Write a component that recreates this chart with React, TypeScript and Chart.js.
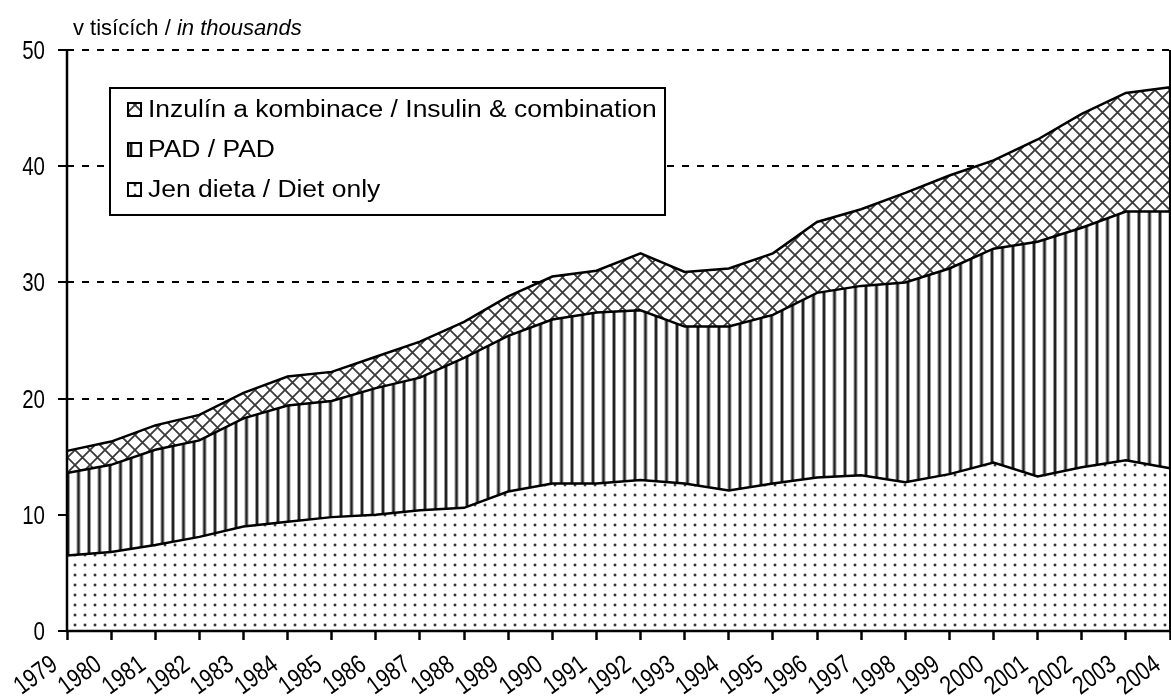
import React, { useEffect, useRef } from 'react';
import { Chart, registerables } from 'chart.js';

Chart.register(...registerables);

const years = ['1979', '1980', '1981', '1982', '1983', '1984', '1985', '1986', '1987', '1988', '1989', '1990', '1991', '1992', '1993', '1994', '1995', '1996', '1997', '1998', '1999', '2000', '2001', '2002', '2003', '2004'];
const dietOnly = [6.5, 6.8, 7.4, 8.1, 9.0, 9.4, 9.8, 10.0, 10.4, 10.6, 12.0, 12.7, 12.7, 13.0, 12.7, 12.1, 12.7, 13.2, 13.4, 12.8, 13.5, 14.5, 13.3, 14.1, 14.7, 14.0];
const pad = [7.1, 7.5, 8.2, 8.3, 9.3, 10.0, 10.0, 10.9, 11.4, 12.9, 13.4, 14.1, 14.7, 14.6, 13.5, 14.1, 14.5, 15.9, 16.3, 17.2, 17.7, 18.4, 20.2, 20.6, 21.4, 22.1];
const insulin = [1.9, 2.0, 2.1, 2.2, 2.2, 2.5, 2.5, 2.7, 3.1, 3.1, 3.4, 3.7, 3.6, 4.9, 4.7, 5.0, 5.3, 6.1, 6.6, 7.7, 8.0, 7.6, 8.8, 9.8, 10.2, 10.7];
const yMin = 0;
const yMax = 50;
const yStep = 10;
const seriesLabels = ['Jen dieta / Diet only', 'PAD / PAD', 'Inzulín a kombinace / Insulin & combination'];
const unitNormal = 'v tisících / ';
const unitItalic = 'in thousands';

const FONT = '"Liberation Sans", Arial, sans-serif';

function tile(w: number, h: number, draw: (c: CanvasRenderingContext2D) => void) {
  const cv = document.createElement('canvas');
  cv.width = w;
  cv.height = h;
  const c = cv.getContext('2d')!;
  c.fillStyle = '#ffffff';
  c.fillRect(0, 0, w, h);
  draw(c);
  return cv;
}

function makePatterns(ctx: CanvasRenderingContext2D) {
  const dots = tile(10, 10, (c) => {
    c.fillStyle = '#8a8a8a';
    c.beginPath();
    c.arc(5, 5, 1.7, 0, Math.PI * 2);
    c.fill();
    c.fillStyle = '#333';
    c.fillRect(4, 4, 2, 2);
  });
  const vlines = tile(21, 4, (c) => {
    c.fillStyle = '#999';
    c.fillRect(3, 0, 4, 4);
    c.fillRect(13.5, 0, 4, 4);
    c.fillStyle = '#222';
    c.fillRect(4, 0, 2, 4);
    c.fillRect(14.5, 0, 2, 4);
  });
  const cross = tile(15, 15, (c) => {
    c.strokeStyle = '#3a3a3a';
    c.lineWidth = 1.8;
    c.beginPath();
    c.moveTo(-2, -2);
    c.lineTo(17, 17);
    c.moveTo(17, -2);
    c.lineTo(-2, 17);
    c.stroke();
  });
  return {
    dots: ctx.createPattern(dots, 'repeat')!,
    vlines: ctx.createPattern(vlines, 'repeat')!,
    cross: ctx.createPattern(cross, 'repeat')!,
  };
}

const framePlugin = {
  id: 'frame',
  afterDatasetsDraw(chart: any) {
    const { ctx, chartArea } = chart;
    const { left, right, top, bottom } = chartArea;
    ctx.save();
    ctx.strokeStyle = '#000';
    ctx.lineWidth = 2.5;
    ctx.beginPath();
    ctx.moveTo(left, top);
    ctx.lineTo(left, bottom);
    ctx.lineTo(right, bottom);
    ctx.stroke();
    ctx.lineWidth = 2;
    ctx.beginPath();
    ctx.moveTo(right, top);
    ctx.lineTo(right, bottom);
    ctx.stroke();
    ctx.restore();
  },
  afterDraw(chart: any) {
    const { ctx, chartArea, scales } = chart;
    ctx.save();
    ctx.fillStyle = '#000';

    // y tick labels (condensed)
    const ys = scales.y;
    ys.ticks.forEach((t: any, i: number) => {
      const py = ys.getPixelForTick(i);
      ctx.save();
      ctx.translate(chartArea.left - 22, py + 9);
      ctx.scale(0.82, 1);
      ctx.font = `25px ${FONT}`;
      ctx.textAlign = 'right';
      ctx.textBaseline = 'alphabetic';
      ctx.fillText(String(t.label), 0, 0);
      ctx.restore();
    });

    // x tick labels (condensed, rotated)
    const xs = scales.x;
    const ang = (-36 * Math.PI) / 180;
    xs.ticks.forEach((t: any, i: number) => {
      const px = xs.getPixelForTick(i);
      ctx.save();
      ctx.translate(px - 8, chartArea.bottom + 37);
      ctx.rotate(ang);
      ctx.scale(0.8, 1);
      ctx.font = `26px ${FONT}`;
      ctx.textAlign = 'right';
      ctx.textBaseline = 'alphabetic';
      ctx.fillText(String(t.label), 0, 0);
      ctx.restore();
    });

    // unit label
    ctx.textBaseline = 'alphabetic';
    ctx.textAlign = 'left';
    ctx.font = `22px ${FONT}`;
    const ux = chartArea.left + 6;
    const uy = chartArea.top - 15;
    ctx.fillText(unitNormal, ux, uy);
    const w = ctx.measureText(unitNormal).width;
    ctx.font = `italic 22px ${FONT}`;
    ctx.fillText(unitItalic, ux + w, uy);

    // legend
    const bx = chartArea.left + 43;
    const by = chartArea.top + 38;
    const bw = 555;
    const bh = 127;
    ctx.fillStyle = '#fff';
    ctx.fillRect(bx, by, bw, bh);
    ctx.strokeStyle = '#000';
    ctx.lineWidth = 2;
    ctx.strokeRect(bx, by, bw, bh);
    const ds = chart.data.datasets;
    const order = [2, 1, 0];
    ctx.textBaseline = 'middle';
    order.forEach((di: number, row: number) => {
      const cy = by + 22 + row * 40;
      const ix = bx + 18;
      ctx.fillStyle = ds[di].backgroundColor;
      ctx.fillRect(ix, cy - 7, 13, 13);
      ctx.lineWidth = 2;
      ctx.strokeStyle = '#000';
      ctx.strokeRect(ix, cy - 7, 13, 13);
      ctx.fillStyle = '#000';
      ctx.save();
      ctx.translate(ix + 20, cy + 1);
      ctx.scale(1.15, 1);
      ctx.font = `23px ${FONT}`;
      ctx.fillText(ds[di].label, 0, 0);
      ctx.restore();
    });
    ctx.restore();
  },
};

export default function App() {
  const ref = useRef<HTMLCanvasElement>(null);
  useEffect(() => {
    const canvas = ref.current!;
    const ctx = canvas.getContext('2d')!;
    const p = makePatterns(ctx);
    const common = {
      borderColor: '#000',
      borderWidth: 2.5,
      pointRadius: 0,
      pointHoverRadius: 0,
      tension: 0,
    };
    const chart = new Chart(canvas, {
      type: 'line',
      data: {
        labels: years,
        datasets: [
          { ...common, label: seriesLabels[0], data: dietOnly, backgroundColor: p.dots as any, fill: 'origin' },
          { ...common, label: seriesLabels[1], data: pad, backgroundColor: p.vlines as any, fill: '-1' },
          { ...common, label: seriesLabels[2], data: insulin, backgroundColor: p.cross as any, fill: '-1' },
        ],
      },
      options: {
        responsive: false,
        animation: false,
        events: [],
        layout: { padding: { top: 50, right: 1, left: 0, bottom: 0 } },
        plugins: { legend: { display: false }, tooltip: { enabled: false }, title: { display: false } },
        scales: {
          x: {
            type: 'category',
            offset: false,
            grid: { drawOnChartArea: false, drawTicks: true, tickLength: 9, tickColor: '#000', tickWidth: 2.5, tickBorderDash: [20, 0] },
            border: { display: false },
            ticks: { autoSkip: false, display: false },
            afterFit(scale: any) {
              scale.height = 69;
              scale.paddingLeft = 0;
              scale.paddingRight = 0;
            },
          },
          y: {
            stacked: true,
            min: yMin,
            max: yMax,
            grid: {
              color: (c: any) => (c.tick && c.tick.value === 0 ? 'rgba(0,0,0,0)' : '#000'),
              lineWidth: 2,
              drawTicks: true,
              tickLength: 9,
              tickColor: '#000',
              tickWidth: 2,
              tickBorderDash: [20, 0],
            },
            border: { display: false, dash: [7, 8] },
            ticks: { stepSize: yStep, display: false },
            afterFit(scale: any) {
              scale.width = 67;
              scale.paddingTop = 0;
              scale.paddingBottom = 0;
            },
          },
        },
      },
      plugins: [framePlugin],
    });
    return () => chart.destroy();
  }, []);
  return (
    <div style={{ position: 'absolute', left: 0, top: 0, width: 1171, height: 700, background: '#fff' }}>
      <canvas ref={ref} width={1171} height={700} style={{ display: 'block' }} />
    </div>
  );
}
